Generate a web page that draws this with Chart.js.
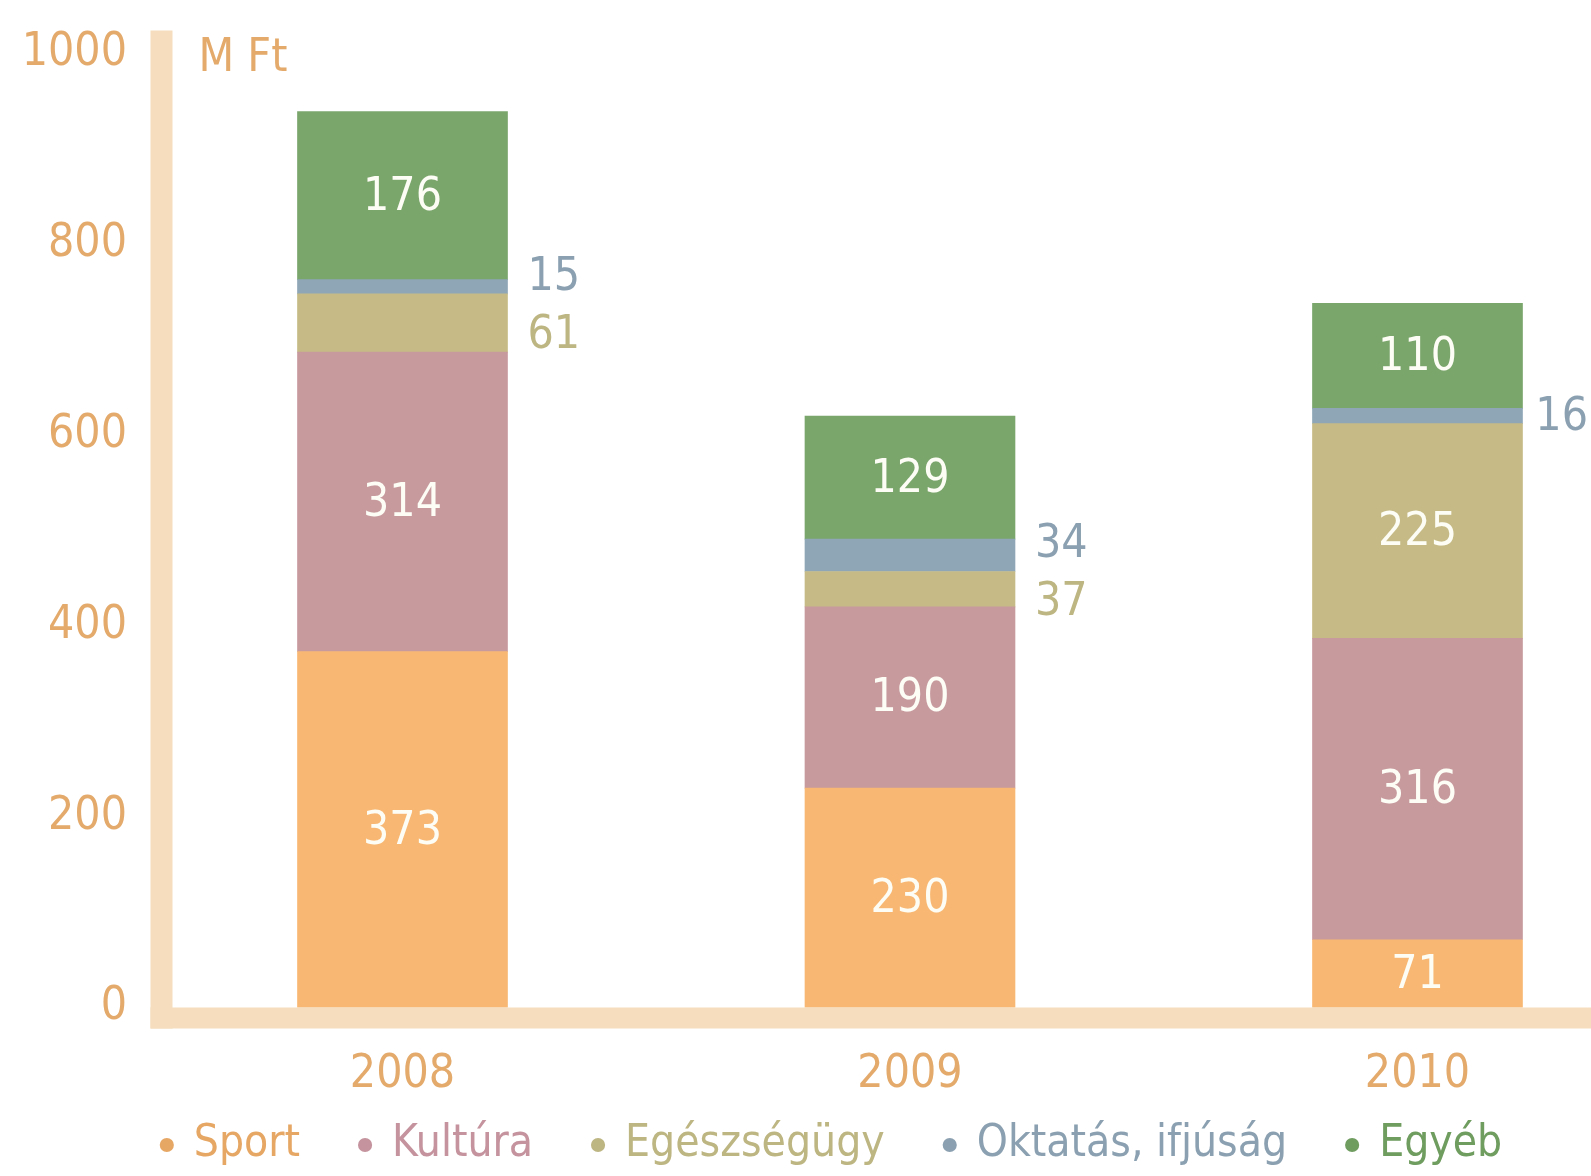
<!DOCTYPE html>
<html>
<head>
<meta charset="utf-8">
<script src="https://cdn.jsdelivr.net/npm/chart.js@4"></script>
<style>
  html, body { margin: 0; padding: 0; background: #fff; overflow: hidden; }
</style>
</head>
<body>
<canvas id="tamogatasChart" width="1591" height="1176"></canvas>
<script>
// adatok (M Ft)
const years = [2008, 2009, 2010];
const seriesNames = ['Sport', 'Kultúra', 'Egészségügy', 'Oktatás, ifjúság', 'Egyéb'];
const sport = [373, 230, 71];
const kultura = [314, 190, 316];
const egeszseg = [61, 37, 225];
const oktatas = [15, 34, 16];
const egyeb = [176, 129, 110];
const yTicks = [0, 200, 400, 600, 800, 1000];
const unitLabel = 'M Ft';

const FONT = "'DejaVu Sans Condensed', 'DejaVu Sans', sans-serif";
const barColors = ['#f8b873', '#c79a9e', '#c6bb86', '#8ea6b6', '#7aa56b'];
const textColors = ['#e6a765', '#c4939d', '#bdb582', '#8ba1b1', '#6f9c5f'];
const axisColor = '#e3aa6c';
const bandColor = '#f5ddbd';

const series = [sport, kultura, egeszseg, oktatas, egyeb];

// tengely sávok (a bal és alsó vastag vonal) + mértékegység
const axisBands = {
    id: 'axisBands',
    beforeDraw(chart) {
        // az évszámok a jelmagyarázat sávjába lógnak, ne vágja le őket
        chart.scales.x.bottom = chart.height;
    },
    beforeDatasetsDraw(chart) {
        const { ctx, chartArea: a } = chart;
        ctx.save();
        ctx.fillStyle = bandColor;
        ctx.fillRect(a.left - 22, a.top - 23, 22, a.bottom - a.top + 23 + 21);
        ctx.fillRect(a.left - 22, a.bottom, chart.width - a.left + 22, 21);
        ctx.fillStyle = axisColor;
        ctx.font = '46px ' + FONT;
        ctx.textAlign = 'left';
        ctx.textBaseline = 'middle';
        ctx.fillText(unitLabel, a.left + 26, a.top + 6);
        ctx.restore();
    }
};

// értékcímkék
const valueLabels = {
    id: 'valueLabels',
    afterDatasetsDraw(chart) {
        const ctx = chart.ctx;
        ctx.save();
        ctx.font = '46px ' + FONT;
        ctx.textBaseline = 'middle';
        const outside = years.map(() => []);
        chart.data.datasets.forEach((ds, di) => {
            const meta = chart.getDatasetMeta(di);
            meta.data.forEach((bar, i) => {
                const v = ds.data[i].y;
                const mid = (bar.y + bar.base) / 2;
                if (bar.base - bar.y >= 62) {
                    ctx.fillStyle = '#fdfdf6';
                    ctx.textAlign = 'center';
                    ctx.fillText(String(v), bar.x, mid + 2);
                } else {
                    outside[i].push({ v: v, y: mid, x: bar.x + bar.width / 2 + 20, color: textColors[di] });
                }
            });
        });
        outside.forEach(list => {
            list.sort((p, q) => p.y - q.y);
            for (let k = 1; k < list.length; k++) {
                if (list[k].y - list[k - 1].y < 58) {
                    const m = (list[k].y + list[k - 1].y) / 2;
                    list[k - 1].y = m - 29;
                    list[k].y = m + 29;
                }
            }
            list.forEach(l => {
                // a jobb szélen ne lógjon ki
                const w = ctx.measureText(String(l.v)).width;
                const x = Math.min(l.x, chart.width - w - 3);
                ctx.fillStyle = l.color;
                ctx.textAlign = 'left';
                ctx.fillText(String(l.v), x, l.y + 2);
            });
        });
        ctx.restore();
    }
};

const ctx = document.getElementById('tamogatasChart').getContext('2d');
const chart = new Chart(ctx, {
    type: 'bar',
    data: {
        datasets: series.map((s, i) => ({
            label: seriesNames[i],
            data: s.map((v, j) => ({ x: years[j], y: v })),
            backgroundColor: barColors[i],
            borderWidth: 0,
            barThickness: 210
        }))
    },
    options: {
        responsive: false,
        animation: false,
        events: [],
        layout: { padding: { top: 53.5, left: 0, right: -73, bottom: -1 } },
        scales: {
            x: {
                type: 'linear',
                stacked: true,
                offset: false,
                min: 2007.5468,
                max: 2010.3419,
                grid: { display: false, drawTicks: false },
                border: { display: false },
                afterBuildTicks: (s) => { s.ticks = years.map(v => ({ value: v })); },
                afterFit: (s) => { s.height = 55.5; },
                ticks: {
                    autoSkip: false,
                    maxRotation: 0,
                    padding: 40,
                    color: axisColor,
                    font: { family: FONT, size: 46 },
                    callback: (v) => String(v)
                }
            },
            y: {
                stacked: true,
                min: 0,
                max: 1000,
                grid: { display: false, drawTicks: true, tickLength: 45.5 },
                border: { display: false },
                afterBuildTicks: (s) => { s.ticks = yTicks.map(v => ({ value: v })); },
                afterFit: (s) => { s.width = 172.5; },
                ticks: {
                    padding: 0,
                    color: axisColor,
                    font: { family: FONT, size: 46 },
                    callback: (v) => String(v)
                }
            }
        },
        plugins: {
            tooltip: { enabled: false },
            legend: {
                position: 'bottom',
                labels: {
                    usePointStyle: true,
                    pointStyle: 'circle',
                    boxWidth: 10,
                    boxHeight: 10,
                    padding: 60,
                    font: { family: FONT, size: 44 },
                    generateLabels: (c) => c.data.datasets.map((ds, i) => ({
                        text: ds.label,
                        fillStyle: textColors[i],
                        strokeStyle: textColors[i],
                        fontColor: textColors[i],
                        lineWidth: 0,
                        pointStyle: 'circle',
                        hidden: false,
                        datasetIndex: i
                    }))
                }
            }
        }
    },
    plugins: [axisBands, valueLabels]
});
</script>
</body>
</html>
